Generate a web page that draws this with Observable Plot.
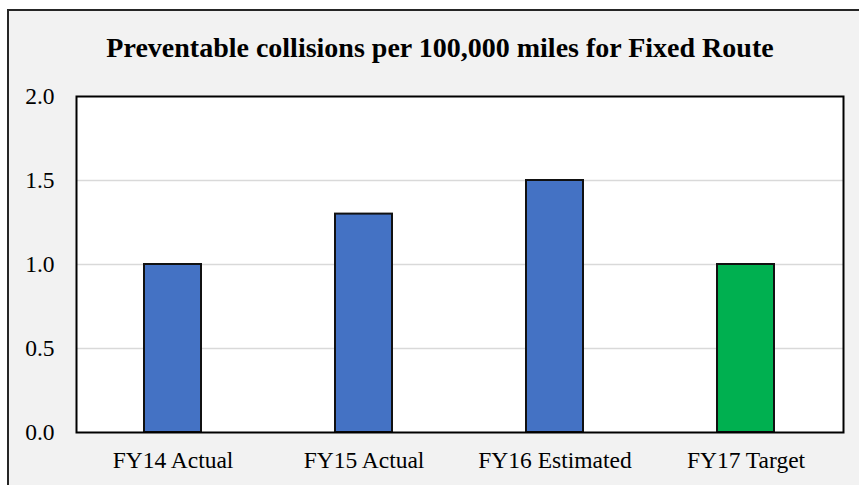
<!DOCTYPE html>
<html>
<head>
<meta charset="utf-8">
<script src="https://cdn.jsdelivr.net/npm/d3@7"></script>
<script src="https://cdn.jsdelivr.net/npm/@observablehq/plot@0.6"></script>
<style>
  html, body { margin: 0; padding: 0; background: #ffffff; width: 859px; height: 485px; overflow: hidden; }
  #box { position: absolute; left: 7px; top: 9px; width: 900px; height: 520px; background: #F2F2F2;
         border-left: 2px solid #262626; border-top: 2px solid #262626; }
  #chart { position: absolute; left: 0; top: 0; }
</style>
</head>
<body>
<div id="box"></div>
<div id="chart"></div>
<script>
const title = "Preventable collisions per 100,000 miles for Fixed Route";
const categories = ["FY14 Actual", "FY15 Actual", "FY16 Estimated", "FY17 Target"];
const values = [1.0, 1.3, 1.5, 1.0];
const yTicks = [0, 0.5, 1.0, 1.5, 2.0];

const barColors = ["#4472C4", "#4472C4", "#4472C4", "#00B050"];
const font = "'Liberation Serif', 'Times New Roman', serif";

const data = categories.map((c, i) => ({category: c, value: values[i]}));

const chart = Plot.plot({
  width: 859,
  height: 485,
  marginLeft: 76,
  marginRight: 16,
  marginTop: 96,
  marginBottom: 53,
  style: {background: "transparent", fontFamily: font, color: "#000", overflow: "visible"},
  x: {domain: categories, paddingInner: 0.7, paddingOuter: 0.35, label: null},
  y: {domain: [0, 2], label: null},
  color: {domain: categories, range: barColors},
  marks: [
    Plot.frame({fill: "white", stroke: null}),
    Plot.ruleY(yTicks.filter(d => d > 0 && d < 2), {stroke: "#D9D9D9", strokeWidth: 1.5}),
    Plot.barY(data, {x: "category", y: "value", fill: "category", stroke: "#111", strokeWidth: 2}),
    Plot.frame({stroke: "#000", strokeWidth: 2}),
    Plot.axisY({ticks: yTicks, tickFormat: d3.format(".1f"), tickSize: 0, tickPadding: 22, fontSize: 23.5, fill: "#000"}),
    Plot.axisX({tickSize: 0, tickPadding: 19, fontSize: 23.5, fill: "#000"}),
    Plot.text([title], {frameAnchor: "top", dx: -20, dy: -40, lineAnchor: "bottom", fontSize: 28, fontWeight: "bold", fill: "#000"})
  ]
});
document.getElementById("chart").appendChild(chart);
</script>
</body>
</html>
